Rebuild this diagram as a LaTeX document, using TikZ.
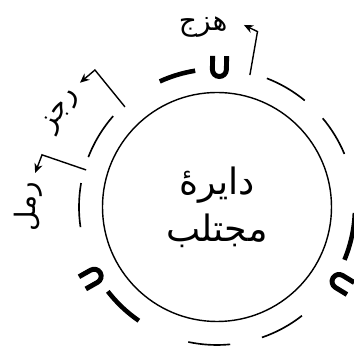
\documentclass[tikz,border=0pt]{standalone}
\usepackage{fontspec}
\newfontfamily\arabicfont[Script=Arabic]{DejaVu Sans}
\TeXXeTstate=1
\usetikzlibrary{arrows.meta}

\begin{document}
\begin{tikzpicture}[x=0.03cm, y=0.03cm,
      sabab/.style={line width=1.4pt},
      watad/.style={line width=3.9pt},
      qasir/.style={line width=4.2pt},
      arr/.style={-{Stealth[length=8pt, width=7pt]}, line width=1.2pt},
      bahr/.style={font=\arabicfont\fontsize{24}{28}\selectfont, inner sep=0pt}
    ]
    \useasboundingbox (-217,-139) rectangle (137,207);

    \node[draw, circle, line width=1.2pt, minimum size=6.87cm, align=center,
          font=\arabicfont\fontsize{31}{40}\selectfont] (dayera) at (0,0)
          {\beginR دایره^^^^0654\endR\\\beginR مجتلب\endR};

    % long syllables
    \foreach \a/\b in {50.5/68.8, 22.6/40, -71/-52, -102/-84.5, 170/188.4, 138.8/158.8}
      \draw[sabab] (\a:138) arc (\a:\b:138);
    \foreach \a/\b in {99.1/114.5, -22.5/-2.5, 217.7/235.5}
      \draw[watad] (\a:138) arc (\a:\b:138);
    % short syllables
    \foreach \a/\r in {89/139.5, -31.4/145, 209.4/143}
      \draw[qasir, shift={(\a:\r)}, rotate=\a-90]
        (-7,11.5) -- (-7,-2) arc (180:360:7) -- (7,11.5);

    \coordinate (hazajS) at (76:136);
    \coordinate (hazajB) at (77:180);
    \coordinate (hazajT) at (81.6:184);
    \coordinate (rajazS) at (132.6:136);
    \coordinate (rajazB) at (131.7:183.5);
    \coordinate (rajazT) at (137.8:185);
    \coordinate (ramalS) at (164.2:136);
    \coordinate (ramalB) at (163.4:182.6);
    \coordinate (ramalT) at (169.4:185);
    \draw[arr] (hazajS) -- (hazajB) -- (hazajT);
    \draw[arr] (rajazS) -- (rajazB) -- (rajazT);
    \draw[arr] (ramalS) -- (ramalB) -- (ramalT);

    \node[bahr] (hazaj) at (94.4:180.5) {\beginR هزج\endR};
    \node[bahr, rotate=58.3] (rajaz) at (148.3:182.7) {\beginR رجز\endR};
    \node[bahr, rotate=90] (ramal) at (180:189) {\beginR رمل\endR};
  \end{tikzpicture}
\end{document}
